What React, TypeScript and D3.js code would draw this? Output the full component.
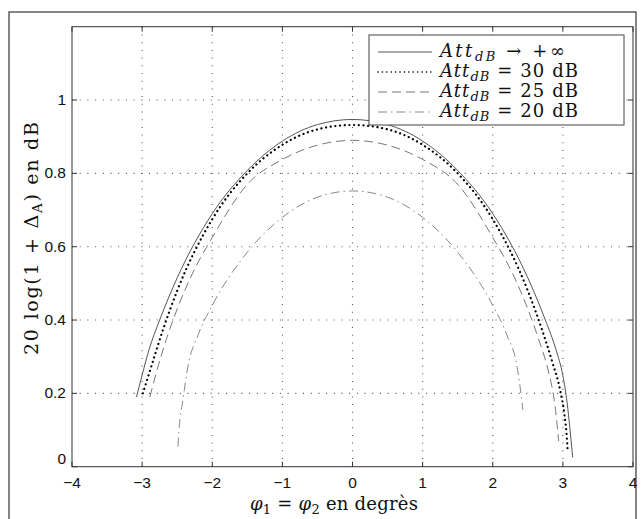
import React from 'react';
import * as d3 from 'd3';

const W = 641;
const H = 519;

const xTicks = [-4, -3, -2, -1, 0, 1, 2, 3, 4];
const yTicks = [0, 0.2, 0.4, 0.6, 0.8, 1];
const gridX = [-3, -2, -1, 0, 1, 2, 3];
const gridY = [0.2, 0.4, 0.6, 0.8, 1];

type P = [number, number];

const attInf: P[] = [
  [-3.08, 0.19], [-3.0, 0.25], [-2.9, 0.32], [-2.75, 0.4], [-2.5, 0.515], [-2.0, 0.69],
  [-1.5, 0.808], [-1.0, 0.888], [-0.5, 0.933], [0, 0.947], [0.5, 0.933], [1.0, 0.888],
  [1.5, 0.808], [2.0, 0.69], [2.5, 0.515], [2.75, 0.4], [2.9, 0.32], [3.0, 0.248],
  [3.06, 0.175], [3.1, 0.105], [3.13, 0.045], [3.14, 0.025],
];

const att30: P[] = [
  [-2.99, 0.2], [-2.85, 0.285], [-2.7, 0.375], [-2.5, 0.48], [-2.0, 0.675], [-1.5, 0.8],
  [-1.0, 0.878], [-0.5, 0.92], [0, 0.932], [0.5, 0.92], [1.0, 0.878], [1.5, 0.8],
  [2.0, 0.675], [2.5, 0.48], [2.7, 0.375], [2.85, 0.285], [2.96, 0.21], [3.02, 0.145],
  [3.05, 0.095], [3.07, 0.04],
];

const att25: P[] = [
  [-2.89, 0.19], [-2.8, 0.255], [-2.65, 0.35], [-2.5, 0.43], [-2.3, 0.52], [-2.0, 0.625],
  [-1.5, 0.77], [-1.0, 0.838], [-0.5, 0.877], [0, 0.89], [0.5, 0.877], [1.0, 0.838],
  [1.5, 0.77], [2.0, 0.625], [2.3, 0.52], [2.5, 0.43], [2.65, 0.35], [2.8, 0.255],
  [2.87, 0.19], [2.91, 0.13], [2.94, 0.07],
];

const att20: P[] = [
  [-2.49, 0.055], [-2.47, 0.11], [-2.42, 0.18], [-2.35, 0.27], [-2.2, 0.36], [-2.0, 0.44],
  [-1.5, 0.585], [-1.0, 0.68], [-0.5, 0.735], [0, 0.752], [0.5, 0.735], [1.0, 0.68],
  [1.5, 0.585], [2.0, 0.44], [2.2, 0.36], [2.35, 0.27], [2.43, 0.155],
];

const legendLabels = ['\u2192 +\u221E', '= 30 dB', '= 25 dB', '= 20 dB'];

const seriesStyles = [
  { data: attInf, stroke: '#555', width: 1, dash: undefined as string | undefined, cap: 'butt' },
  { data: att30, stroke: '#000', width: 2.2, dash: '0.1 4.6', cap: 'round' },
  { data: att25, stroke: '#777', width: 1, dash: '9 5', cap: 'butt' },
  { data: att20, stroke: '#888', width: 1, dash: '9 4 1.5 4', cap: 'butt' },
];
const legendDash = [undefined, '0.1 4.3', '9 5', '9 4 1.5 4'];

export default function App() {
  const x = d3.scaleLinear().domain([-4, 4]).range([72, 633]);
  const y = d3.scaleLinear().domain([0, 1.2]).range([466.7, 26.7]);
  const line = d3
    .line<P>()
    .x((d) => x(d[0]))
    .y((d) => y(d[1]))
    .curve(d3.curveMonotoneX);

  const x0 = x(-4), x1 = x(4), y0 = y(0), y1 = y(1.2);
  const tickLen = 5;
  const axisColor = '#333';
  const sans = 'Liberation Sans, Arial, sans-serif';
  const serif = 'DejaVu Serif, serif';

  const lgX = 369, lgY = 35, lgW = 255, lgH = 90;
  const rowY = [52, 72, 92, 112];

  return (
    <svg width={W} height={H} style={{ position: 'absolute', left: 0, top: 0, background: '#fff' }}>
      <rect x={0} y={0} width={W} height={H} fill="#fff" />
      {/* outer frame */}
      <rect x={9} y={12} width={627} height={530} fill="none" stroke="#444" strokeWidth={1.3} />

      {/* grid */}
      <g stroke="#555" strokeWidth={1.1} strokeDasharray="1 6.7">
        {gridX.map((v) => (
          <line key={'gx' + v} x1={x(v)} x2={x(v)} y1={y0} y2={y1} />
        ))}
        {gridY.map((v) => (
          <line key={'gy' + v} x1={x0} x2={x1} y1={y(v)} y2={y(v)} />
        ))}
      </g>

      {/* series */}
      {seriesStyles.map((s, i) => (
        <path
          key={'s' + i}
          d={line(s.data) || ''}
          fill="none"
          stroke={s.stroke}
          strokeWidth={s.width}
          strokeDasharray={s.dash}
          strokeLinecap={s.cap as any}
        />
      ))}

      {/* axes box */}
      <rect x={x0} y={y1} width={x1 - x0} height={y0 - y1} fill="none" stroke={axisColor} strokeWidth={1} />
      <g stroke={axisColor} strokeWidth={1}>
        {xTicks.map((v) => (
          <g key={'xt' + v}>
            <line x1={x(v)} x2={x(v)} y1={y0} y2={y0 - tickLen} />
            <line x1={x(v)} x2={x(v)} y1={y1} y2={y1 + tickLen} />
          </g>
        ))}
        {yTicks.map((v) => (
          <g key={'yt' + v}>
            <line x1={x0} x2={x0 + tickLen} y1={y(v)} y2={y(v)} />
            <line x1={x1} x2={x1 - tickLen} y1={y(v)} y2={y(v)} />
          </g>
        ))}
      </g>

      {/* tick labels */}
      <g fontFamily={sans} fontSize={15.5} fill="#111">
        {xTicks.map((v) => (
          <text key={'xl' + v} x={x(v)} y={y0 + 21} textAnchor="middle">
            {v < 0 ? '\u2212' + Math.abs(v) : String(v)}
          </text>
        ))}
        {yTicks.map((v) => (
          <text key={'yl' + v} x={x0 - 6} y={y(v) + (v === 0 ? -3 : 5)} textAnchor="end">
            {String(v)}
          </text>
        ))}
      </g>

      {/* axis labels */}
      <text x={250} y={510} fontFamily={serif} fontSize={18} fill="#111" textLength={168} lengthAdjust="spacing">
        <tspan fontStyle="italic">{'\u03C6'}</tspan>
        <tspan fontSize={13} dy={4}>1</tspan>
        <tspan dy={-4}>{' = '}</tspan>
        <tspan fontStyle="italic">{'\u03C6'}</tspan>
        <tspan fontSize={13} dy={4}>2</tspan>
        <tspan dy={-4}>{'  en degrès'}</tspan>
      </text>
      <text
        transform={`translate(38,355) rotate(-90)`}
        fontFamily={serif}
        fontSize={19}
        fill="#111"
        textLength={233}
        lengthAdjust="spacing"
      >
        <tspan>{'20 log(1 + \u0394'}</tspan>
        <tspan fontSize={13.5} dy={4}>A</tspan>
        <tspan dy={-4}>{') en dB'}</tspan>
      </text>

      {/* legend */}
      <rect x={lgX} y={lgY} width={lgW} height={lgH} fill="#fff" stroke="#444" strokeWidth={1} />
      {legendLabels.map((lab, i) => (
        <g key={'lg' + i}>
          <line
            x1={378}
            x2={432}
            y1={rowY[i]}
            y2={rowY[i]}
            stroke={seriesStyles[i].stroke}
            strokeWidth={i === 1 ? 1.6 : 1}
            strokeDasharray={legendDash[i]}
            strokeLinecap={i === 1 ? 'round' : 'butt'}
          />
          <text
            x={440}
            y={rowY[i] + 5}
            fontFamily={serif}
            fontSize={18}
            fill="#111"
            textLength={i === 0 ? 125 : 138}
            lengthAdjust="spacing"
          >
            <tspan fontStyle="italic">Att</tspan>
            <tspan fontStyle="italic" fontSize={13} dy={4}>dB</tspan>
            <tspan dy={-4}>{' ' + lab}</tspan>
          </text>
        </g>
      ))}
    </svg>
  );
}
